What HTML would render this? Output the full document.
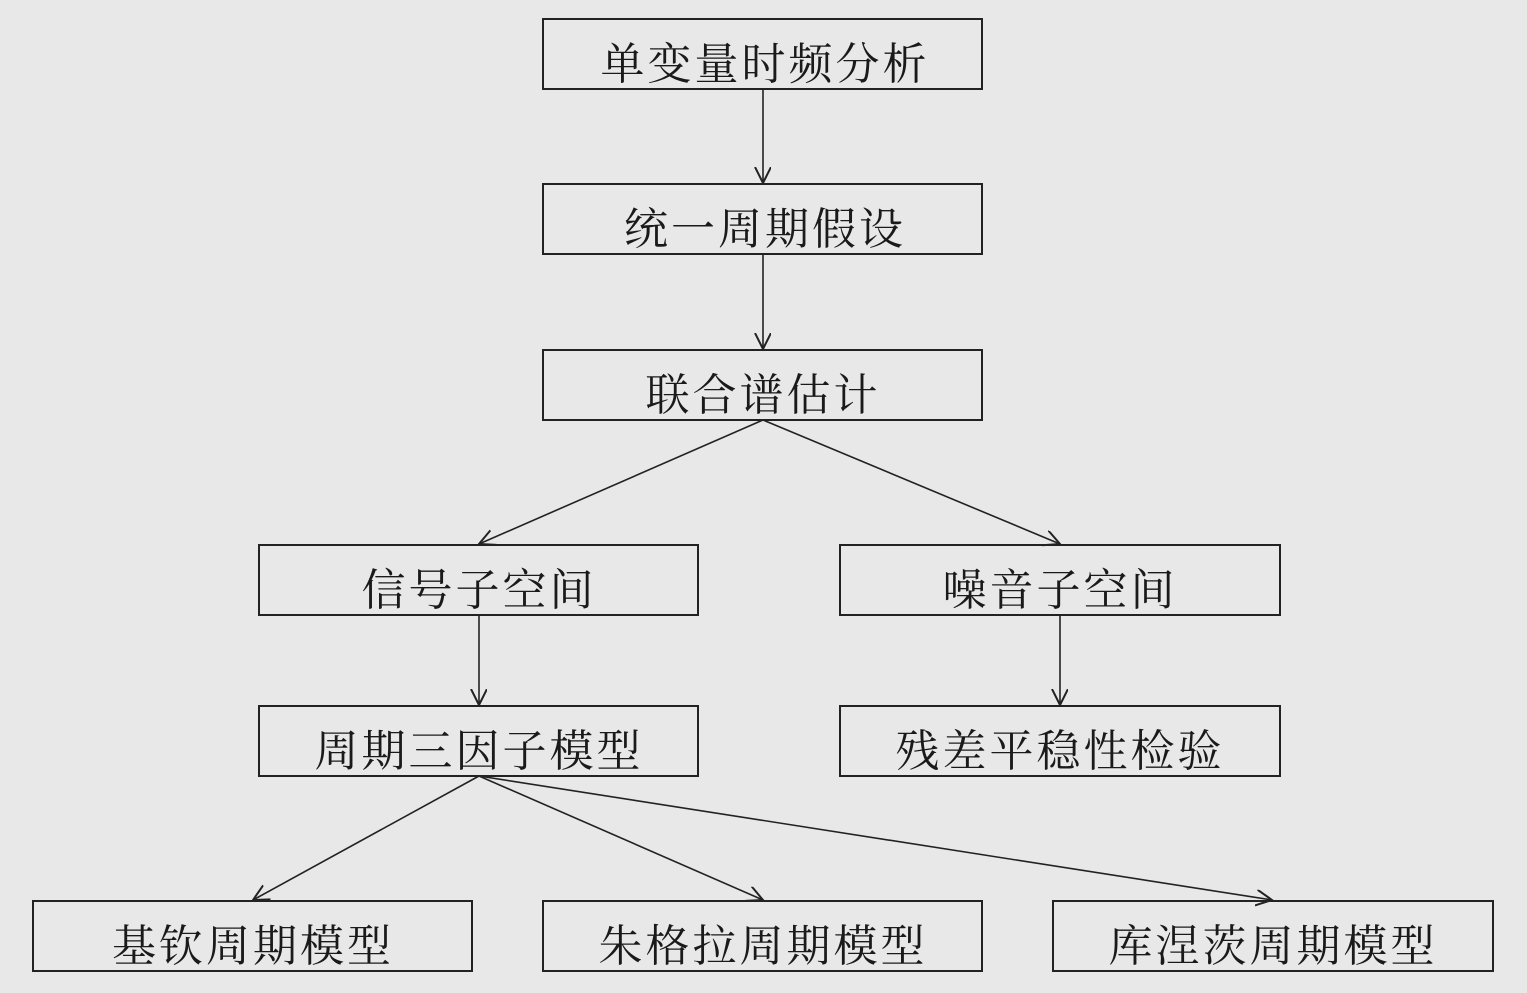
<!DOCTYPE html>
<html><head><meta charset="utf-8"><style>
html,body{margin:0;padding:0;background:#e8e8e8;}
svg{display:block}
text{font-family:"Liberation Serif","Noto Serif CJK SC",serif;font-size:44px;fill:#1a1a1a;text-anchor:middle;letter-spacing:3px}
</style></head><body>
<svg width="1527" height="993" viewBox="0 0 1527 993" xmlns="http://www.w3.org/2000/svg">
<rect width="1527" height="993" fill="#e8e8e8"/>
<defs><marker id="a" markerWidth="20" markerHeight="20" refX="16" refY="8" orient="auto" markerUnits="userSpaceOnUse"><path d="M0,0 L16,8 L0,16" fill="none" stroke="#222" stroke-width="2"/></marker></defs>
<g fill="none" stroke="#222" stroke-width="2">
<rect x="543" y="19" width="439" height="70"/>
<rect x="543" y="184" width="439" height="70"/>
<rect x="543" y="350" width="439" height="70"/>
<rect x="259" y="545" width="439" height="70"/>
<rect x="840" y="545" width="440" height="70"/>
<rect x="259" y="706" width="439" height="70"/>
<rect x="840" y="706" width="440" height="70"/>
<rect x="33" y="901" width="439" height="70"/>
<rect x="543" y="901" width="439" height="70"/>
<rect x="1053" y="901" width="440" height="70"/>
<g marker-end="url(#a)" stroke-width="1.6">
<line x1="763" y1="89" x2="763" y2="183"/>
<line x1="763" y1="254" x2="763" y2="349"/>
<line x1="763" y1="420" x2="479" y2="544"/>
<line x1="763" y1="420" x2="1060" y2="544"/>
<line x1="479" y1="615" x2="479" y2="705"/>
<line x1="1060" y1="615" x2="1060" y2="705"/>
<line x1="479" y1="776" x2="253" y2="900"/>
<line x1="479" y1="776" x2="763" y2="900"/>
<line x1="479" y1="776" x2="1272" y2="900"/>
</g></g>
<text x="765" y="79">单变量时频分析</text>
<text x="765" y="244">统一周期假设</text>
<text x="763" y="410">联合谱估计</text>
<text x="479" y="605">信号子空间</text>
<text x="1060" y="605">噪音子空间</text>
<text x="479" y="766">周期三因子模型</text>
<text x="1060" y="766">残差平稳性检验</text>
<text x="253" y="961">基钦周期模型</text>
<text x="763" y="961">朱格拉周期模型</text>
<text x="1273" y="961">库涅茨周期模型</text>
</svg>
</body></html>
